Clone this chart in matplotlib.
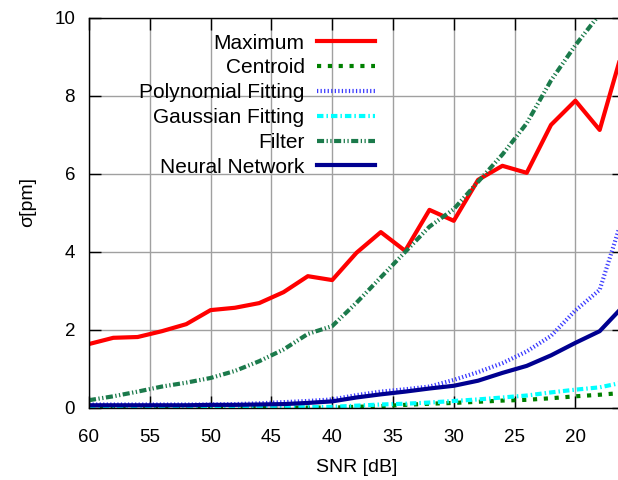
import matplotlib
matplotlib.use("Agg")
import matplotlib.pyplot as plt
from matplotlib.ticker import MultipleLocator

plt.rcParams["font.family"] = ["Liberation Sans", "DejaVu Sans"]

# SNR in dB, 60 down to 16 in steps of 2
snr = [60, 58, 56, 54, 52, 50, 48, 46, 44, 42, 40, 38,
       36, 34, 32, 30, 28, 26, 24, 22, 20, 18, 16]

maximum = [1.64, 1.80, 1.82, 1.97, 2.15, 2.51, 2.57, 2.69, 2.97, 3.38, 3.28, 3.98,
           4.51, 4.03, 5.08, 4.80, 5.85, 6.21, 6.03, 7.26, 7.88, 7.13, 9.30]
centroid = [0.01, 0.01, 0.01, 0.01, 0.01, 0.01, 0.01, 0.01, 0.01, 0.01, 0.01, 0.03,
            0.05, 0.08, 0.11, 0.13, 0.16, 0.19, 0.21, 0.25, 0.30, 0.34, 0.39]
polynomial = [0.09, 0.09, 0.09, 0.09, 0.09, 0.09, 0.10, 0.12, 0.15, 0.18, 0.22, 0.33,
              0.42, 0.48, 0.55, 0.72, 0.92, 1.15, 1.45, 1.85, 2.50, 3.03, 5.00]
gaussian = [0.02, 0.02, 0.02, 0.02, 0.02, 0.02, 0.02, 0.02, 0.02, 0.02, 0.03, 0.06,
            0.09, 0.11, 0.14, 0.18, 0.22, 0.27, 0.32, 0.40, 0.47, 0.53, 0.66]
filt = [0.20, 0.30, 0.42, 0.55, 0.65, 0.77, 0.95, 1.20, 1.50, 1.90, 2.10, 2.70,
        3.35, 4.00, 4.65, 5.10, 5.80, 6.50, 7.30, 8.40, 9.30, 10.10, 11.00]
neural = [0.07, 0.07, 0.07, 0.07, 0.07, 0.08, 0.08, 0.09, 0.10, 0.13, 0.17, 0.27,
          0.35, 0.42, 0.50, 0.57, 0.70, 0.90, 1.08, 1.35, 1.67, 1.97, 2.63]

fig = plt.figure(figsize=(6.18, 4.8), dpi=100)
ax = fig.add_axes([0.144, 0.15, 0.8657, 0.8125])

ax.plot(snr, maximum, color="#ff0000", lw=3, label="Maximum")
ax.plot(snr, centroid, color="#008000", lw=3, dashes=(1.0, 1.6), label="Centroid")
ax.plot(snr, polynomial, color="#3a3aff", lw=3, dashes=(0.3, 0.55), label="Polynomial Fitting")
ax.plot(snr, gaussian, color="#00ffff", lw=3, dashes=(1.55, 0.72, 0.36, 0.72), label="Gaussian Fitting")
ax.plot(snr, filt, color="#1b7a4b", lw=3,
        dashes=(1.7, 0.6, 0.3, 0.6, 0.3, 0.6), label="Filter")
ax.plot(snr, neural, color="#000090", lw=3, label="Neural Network")

ax.set_xlim(60, 16)
ax.set_ylim(0, 10)
ax.xaxis.set_major_locator(MultipleLocator(5))
ax.yaxis.set_major_locator(MultipleLocator(2))

ax.grid(True, color="#a0a0a0", lw=1.0)
ax.set_axisbelow(True)
ax.tick_params(direction="in", length=8.5, width=1, top=True, right=True,
               labelsize=13.5)
ax.tick_params(axis="x", pad=15)
ax.tick_params(axis="y", pad=10)
for s in ax.spines.values():
    s.set_linewidth(1)

ax.set_xlabel("SNR [dB]", fontsize=14)
ax.set_ylabel("σ[pm]", fontsize=14)
ax.xaxis.set_label_coords(0.5, -0.13)
ax.yaxis.set_label_coords(-0.098, 0.528)

ax.legend(loc="upper right", bbox_to_anchor=(0.5346, 0.96), frameon=False,
          markerfirst=False, fontsize=15, handlelength=2.8, handletextpad=0.58,
          labelspacing=0.28, borderpad=0, borderaxespad=0)

fig.savefig("out.png", dpi=100)
